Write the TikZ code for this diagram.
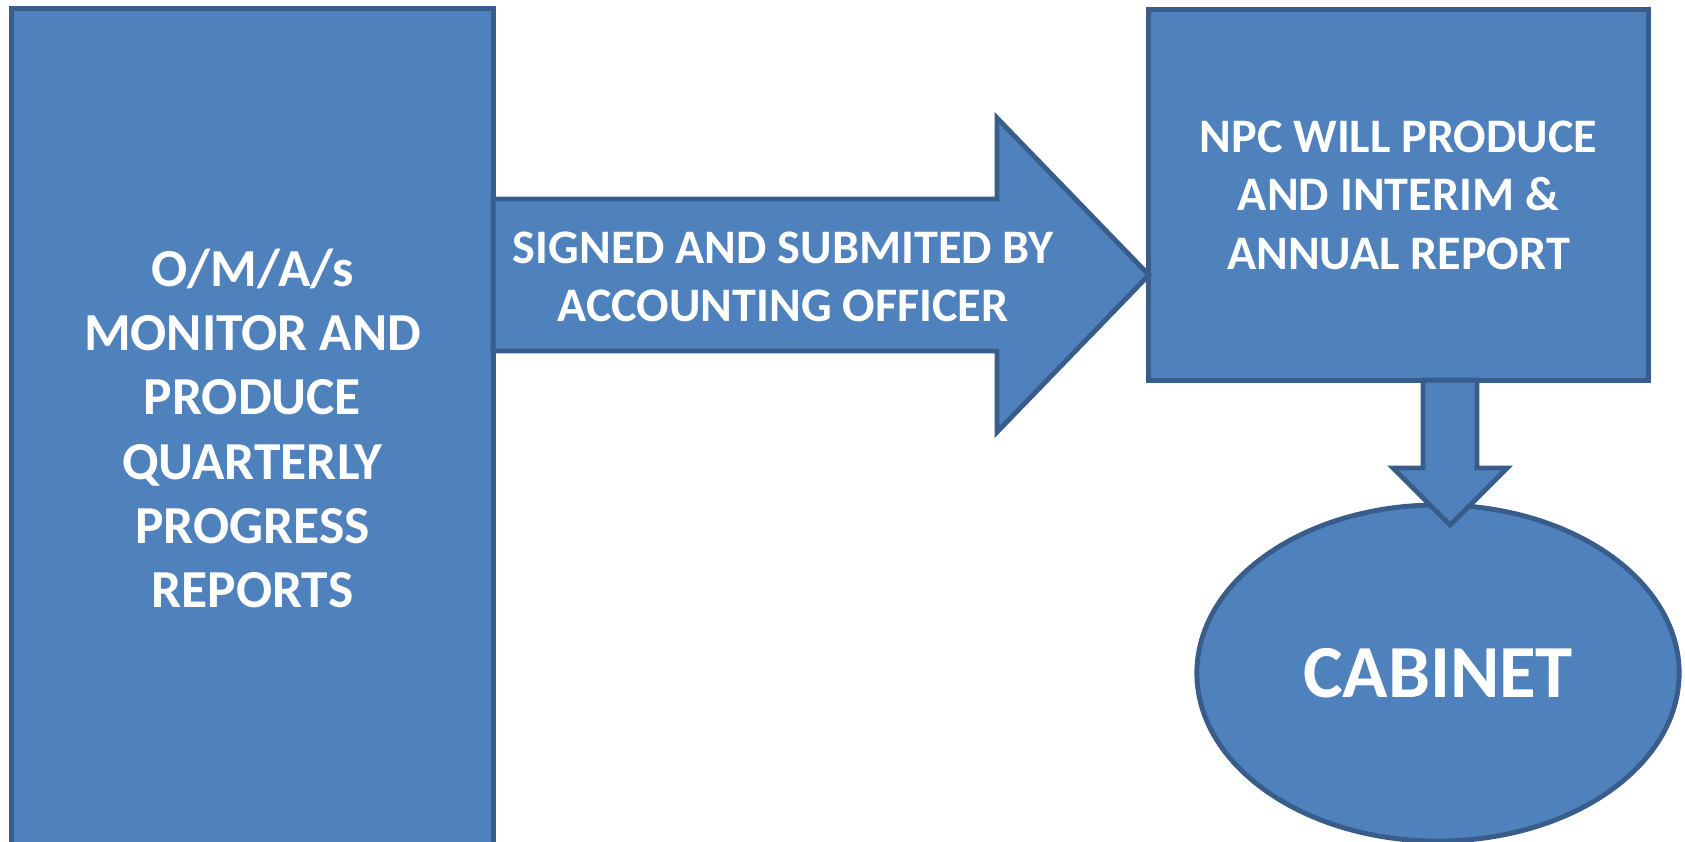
\documentclass[tikz,border=0pt]{standalone}
\usepackage{fontspec}
\setmainfont{Carlito}
\usetikzlibrary{shapes.geometric}
\definecolor{boxfill}{HTML}{4F81BD}
\definecolor{boxline}{HTML}{385D8A}
\tikzset{
    flowbox/.style={draw=boxline, fill=boxfill, line width=1.4pt, inner sep=0pt, outer sep=0pt,
        text=white, align=center, font=\bfseries\fontsize{13.7}{16.6}\selectfont},
    flowellipse/.style={flowbox, ellipse},
    flowarrow/.style={draw=boxline, fill=boxfill, line width=1.4pt, line join=miter},
    flowtext/.style={text=white, align=center, font=\bfseries\fontsize{13.7}{16.6}\selectfont},
}
\begin{document}
\begin{tikzpicture}[x=0.01cm, y=-0.01cm]
\useasboundingbox (0,0) rectangle (1685,841);
\clip (0,0) rectangle (1685,841);

\node[flowbox, minimum width=4.81cm, minimum height=8.39cm,
    font=\bfseries\fontsize{15.2}{18.3}\selectfont] (omas) at (252.5,428.5)
    {O/M/A/s\\MONITOR AND\\PRODUCE\\QUARTERLY\\PROGRESS\\REPORTS};
\node[flowbox, minimum width=4.99cm, minimum height=3.70cm] (npc) at (1398.5,195)
    {NPC WILL PRODUCE\\AND INTERIM \&\\ANNUAL REPORT};

% block arrow between the boxes
\draw[flowarrow] (omas.east |- 0,199) -- (997,199) -- (997,118) -- (npc.west |- 0,275)
    -- (997,432) -- (997,351) -- (omas.east |- 0,351) -- cycle;
\node[flowtext] (sign) at (783,277) {SIGNED AND SUBMITED BY\\ACCOUNTING OFFICER};

\node[flowellipse, minimum width=4.82cm, minimum height=3.36cm,
    font=\bfseries\fontsize{21.3}{26}\selectfont] (cab) at (1438,673) {CABINET};

% down arrow into the ellipse
\coordinate (tip) at (1450,525);
\draw[flowarrow] (npc.south -| 1423,0) -- (1423,468) -- (1393,468) -- (tip)
    -- (1507,468) -- (1477,468) -- (npc.south -| 1477,0) -- cycle;
\end{tikzpicture}
\end{document}
